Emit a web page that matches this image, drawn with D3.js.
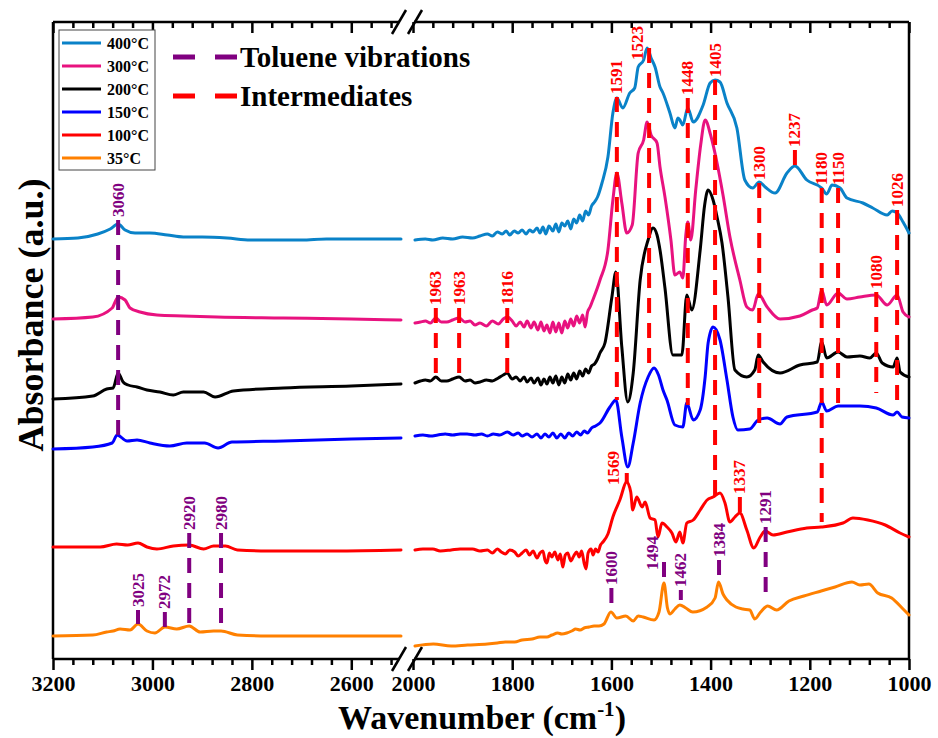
<!DOCTYPE html>
<html>
<head>
<meta charset="utf-8">
<script src="https://cdn.jsdelivr.net/npm/d3@7"></script>
<style>
  body { margin: 0; background: #fff; }
  svg text { font-family: "Liberation Serif", "Times New Roman", serif; font-weight: bold; }
</style>
</head>
<body>
<div id="chart"></div>
<script>
// spectra, [wavenumber, absorbance (a.u., offset)]
const s400 = [[3200,4.20],[3150,4.21],[3110,4.25],[3085,4.30],[3069,4.35],[3055,4.29],[3035,4.26],[3005,4.26],[2970,4.24],[2938,4.22],[2900,4.22],[2850,4.21],[2803,4.19],[2750,4.19],[2700,4.19],[2650,4.20],[2600,4.20],[2535,4.20],[2500,4.20],
  [1996,4.19],[1975,4.20],[1960,4.19],[1940,4.21],[1920,4.20],[1900,4.22],[1880,4.21],[1865,4.23],[1850,4.25],[1840,4.23],[1830,4.27],[1820,4.25],[1812,4.28],[1805,4.24],[1796,4.28],[1788,4.26],[1780,4.29],[1772,4.25],[1765,4.29],[1758,4.27],[1750,4.31],[1744,4.26],[1738,4.32],[1732,4.25],[1726,4.33],[1718,4.28],[1712,4.35],[1706,4.27],[1700,4.36],[1694,4.33],[1688,4.38],[1682,4.30],[1676,4.40],[1670,4.36],[1664,4.44],[1658,4.38],[1652,4.48],[1646,4.44],[1640,4.53],[1634,4.57],[1628,4.62],[1619,4.76],[1607,5.02],[1597,5.46],[1589,5.61],[1577,5.51],[1563,5.66],[1553,5.71],[1546,5.92],[1535,5.99],[1528,6.11],[1520,6.01],[1512,5.92],[1502,5.72],[1496,5.66],[1482,5.46],[1472,5.31],[1466,5.41],[1462,5.39],[1456,5.34],[1446,5.51],[1435,5.37],[1415,5.54],[1401,5.76],[1391,5.79],[1381,5.77],[1367,5.56],[1347,5.31],[1331,4.79],[1315,4.71],[1302,4.77],[1290,4.72],[1270,4.66],[1246,4.86],[1230,4.93],[1206,4.79],[1176,4.71],[1166,4.65],[1155,4.74],[1139,4.71],[1125,4.61],[1093,4.56],[1073,4.51],[1044,4.44],[1034,4.48],[1024,4.46],[1012,4.37],[1000,4.26]];

const s300 = [[3200,3.40],[3120,3.42],[3081,3.51],[3069,3.62],[3055,3.59],[3045,3.51],[3025,3.47],[2991,3.44],[2938,3.43],[2870,3.42],[2737,3.41],[2600,3.40],[2500,3.39],
  [1996,3.36],[1985,3.37],[1975,3.38],[1965,3.36],[1954,3.41],[1943,3.37],[1932,3.37],[1920,3.39],[1907,3.41],[1895,3.37],[1885,3.38],[1875,3.34],[1865,3.36],[1852,3.33],[1840,3.38],[1828,3.35],[1818,3.40],[1810,3.42],[1800,3.38],[1792,3.33],[1784,3.37],[1776,3.32],[1770,3.38],[1762,3.31],[1756,3.37],[1748,3.29],[1742,3.37],[1736,3.28],[1730,3.34],[1724,3.26],[1718,3.37],[1712,3.27],[1706,3.36],[1700,3.26],[1694,3.38],[1688,3.31],[1682,3.40],[1676,3.33],[1670,3.43],[1664,3.36],[1658,3.44],[1653,3.32],[1648,3.47],[1643,3.52],[1639,3.57],[1623,3.79],[1607,4.09],[1597,4.59],[1589,4.86],[1579,4.56],[1569,4.26],[1558,4.34],[1546,5.06],[1535,5.19],[1528,5.37],[1520,5.24],[1508,5.16],[1502,4.92],[1492,4.62],[1480,4.19],[1472,3.84],[1462,3.87],[1456,3.81],[1450,4.24],[1446,4.37],[1440,4.19],[1430,4.69],[1420,5.14],[1411,5.39],[1400,5.24],[1387,4.96],[1375,4.64],[1361,4.22],[1341,3.79],[1327,3.52],[1315,3.49],[1304,3.65],[1286,3.52],[1260,3.40],[1220,3.43],[1195,3.49],[1185,3.51],[1176,3.69],[1166,3.54],[1143,3.66],[1125,3.60],[1099,3.62],[1066,3.64],[1044,3.54],[1024,3.64],[1012,3.47],[1000,3.42]];

const s200 = [[3200,2.60],[3120,2.63],[3092,2.70],[3079,2.71],[3069,2.86],[3059,2.77],[3049,2.74],[3031,2.72],[3011,2.69],[2985,2.67],[2958,2.64],[2938,2.67],[2897,2.67],[2874,2.62],[2837,2.68],[2737,2.71],[2600,2.73],[2500,2.75],
  [1996,2.76],[1985,2.78],[1975,2.79],[1965,2.78],[1954,2.82],[1943,2.78],[1932,2.78],[1920,2.80],[1907,2.82],[1895,2.78],[1885,2.79],[1875,2.76],[1865,2.77],[1852,2.79],[1840,2.78],[1828,2.81],[1818,2.84],[1810,2.86],[1800,2.80],[1792,2.82],[1784,2.78],[1776,2.82],[1770,2.77],[1762,2.81],[1756,2.76],[1748,2.81],[1742,2.74],[1736,2.80],[1730,2.75],[1724,2.82],[1718,2.76],[1712,2.83],[1706,2.74],[1700,2.82],[1694,2.76],[1688,2.85],[1682,2.79],[1676,2.86],[1670,2.80],[1664,2.88],[1658,2.83],[1652,2.90],[1646,2.86],[1640,2.93],[1634,2.95],[1628,3.00],[1623,3.06],[1613,3.16],[1599,3.62],[1591,3.87],[1579,3.12],[1567,2.57],[1556,2.86],[1542,3.79],[1526,4.19],[1516,4.31],[1508,4.24],[1502,4.09],[1492,3.71],[1476,3.04],[1458,3.04],[1448,3.64],[1438,3.49],[1421,4.09],[1412,4.54],[1405,4.69],[1395,4.59],[1387,4.42],[1377,4.16],[1365,3.62],[1351,2.89],[1327,2.82],[1311,2.89],[1304,3.04],[1294,2.97],[1260,2.86],[1220,2.94],[1185,2.97],[1176,3.17],[1166,3.01],[1143,3.07],[1125,3.02],[1099,3.03],[1079,3.01],[1066,3.06],[1054,2.96],[1032,2.92],[1024,3.01],[1018,2.87],[1000,2.82]];

const s150 = [[3200,2.10],[3120,2.12],[3081,2.16],[3071,2.24],[3051,2.18],[3031,2.19],[3005,2.16],[2965,2.13],[2931,2.16],[2895,2.16],[2868,2.11],[2840,2.17],[2737,2.18],[2600,2.20],[2500,2.21],
  [1996,2.23],[1980,2.24],[1965,2.23],[1950,2.24],[1935,2.25],[1920,2.24],[1905,2.25],[1891,2.25],[1875,2.24],[1862,2.25],[1850,2.23],[1838,2.25],[1825,2.24],[1810,2.27],[1798,2.24],[1788,2.26],[1780,2.23],[1770,2.25],[1760,2.22],[1750,2.25],[1742,2.21],[1734,2.25],[1726,2.22],[1718,2.26],[1710,2.21],[1702,2.25],[1694,2.21],[1686,2.26],[1678,2.23],[1670,2.27],[1662,2.24],[1655,2.28],[1648,2.26],[1640,2.31],[1632,2.33],[1623,2.36],[1603,2.52],[1591,2.59],[1579,2.22],[1567,1.92],[1556,2.16],[1542,2.56],[1526,2.82],[1514,2.91],[1505,2.84],[1496,2.69],[1488,2.59],[1472,2.34],[1456,2.32],[1448,2.56],[1435,2.39],[1421,2.49],[1411,2.82],[1405,3.16],[1395,3.32],[1381,3.19],[1367,2.79],[1355,2.42],[1345,2.29],[1321,2.30],[1304,2.39],[1286,2.41],[1260,2.35],[1246,2.42],[1185,2.47],[1176,2.57],[1166,2.48],[1143,2.53],[1099,2.53],[1066,2.51],[1032,2.44],[1024,2.47],[1014,2.42],[1000,2.41]];

const s100 = [[3200,1.12],[3105,1.12],[3072,1.15],[3050,1.14],[3029,1.16],[3011,1.12],[2991,1.10],[2958,1.13],[2926,1.14],[2897,1.10],[2877,1.13],[2853,1.13],[2829,1.09],[2768,1.08],[2634,1.08],[2500,1.09],
  [1996,1.09],[1980,1.10],[1960,1.10],[1945,1.08],[1923,1.09],[1905,1.10],[1880,1.10],[1865,1.08],[1850,1.09],[1840,1.06],[1830,1.10],[1822,1.07],[1814,1.05],[1805,1.09],[1795,1.07],[1788,1.03],[1780,1.06],[1772,1.09],[1765,1.04],[1758,1.08],[1750,1.01],[1744,1.06],[1738,1.08],[1734,0.99],[1730,0.96],[1725,1.06],[1720,1.02],[1714,1.07],[1708,0.99],[1703,1.05],[1698,0.92],[1693,1.04],[1688,1.06],[1682,0.98],[1676,1.03],[1670,1.07],[1665,1.02],[1660,1.08],[1655,0.96],[1651,0.90],[1647,1.06],[1641,1.10],[1637,1.04],[1632,1.10],[1627,1.07],[1622,1.14],[1617,1.17],[1607,1.25],[1597,1.42],[1583,1.59],[1569,1.77],[1561,1.67],[1557,1.49],[1549,1.62],[1538,1.52],[1532,1.57],[1522,1.41],[1512,1.39],[1506,1.22],[1498,1.36],[1488,1.32],[1478,1.26],[1470,1.17],[1462,1.27],[1456,1.16],[1448,1.36],[1435,1.39],[1421,1.49],[1407,1.59],[1395,1.62],[1381,1.66],[1371,1.56],[1361,1.37],[1351,1.42],[1341,1.46],[1327,1.29],[1313,1.11],[1300,1.22],[1290,1.28],[1274,1.24],[1246,1.27],[1206,1.31],[1177,1.32],[1133,1.36],[1113,1.41],[1083,1.39],[1048,1.34],[1018,1.26],[1000,1.22]];

const s35 = [[3200,0.23],[3120,0.24],[3092,0.27],[3079,0.28],[3065,0.30],[3045,0.29],[3029,0.35],[3011,0.28],[2995,0.26],[2975,0.32],[2951,0.30],[2926,0.33],[2904,0.27],[2877,0.28],[2862,0.28],[2829,0.24],[2768,0.23],[2600,0.23],[2500,0.23],
  [1996,0.13],[1959,0.15],[1923,0.13],[1890,0.14],[1850,0.15],[1830,0.16],[1814,0.17],[1795,0.17],[1780,0.19],[1760,0.20],[1744,0.22],[1730,0.22],[1720,0.24],[1708,0.26],[1700,0.25],[1690,0.26],[1680,0.28],[1672,0.30],[1663,0.29],[1655,0.31],[1645,0.32],[1635,0.33],[1625,0.33],[1615,0.35],[1601,0.47],[1589,0.41],[1571,0.43],[1556,0.38],[1546,0.43],[1536,0.42],[1514,0.39],[1504,0.47],[1494,0.76],[1487,0.51],[1482,0.45],[1472,0.50],[1462,0.54],[1450,0.51],[1436,0.47],[1407,0.52],[1391,0.61],[1384,0.77],[1375,0.65],[1367,0.59],[1349,0.52],[1335,0.50],[1321,0.49],[1311,0.40],[1299,0.47],[1285,0.53],[1267,0.49],[1242,0.58],[1212,0.63],[1177,0.68],[1149,0.72],[1115,0.77],[1099,0.74],[1081,0.75],[1063,0.66],[1035,0.61],[1012,0.50],[1000,0.44]];

const seriesNames = ["400°C", "300°C", "200°C", "150°C", "100°C", "35°C"];
const seriesData = [s400, s300, s200, s150, s100, s35];
const seriesColors = ["#0a82c8", "#e8127f", "#000000", "#0000ff", "#ff0000", "#ff8000"];

// peak markers: [wavenumber, label, top a.u., bottom a.u.]
const toluenePeaks = [[3069,"3060",4.39,2.24],[3029,"3025",0.49,0.35],[2975,"2972",0.47,0.32],[2926,"2920",1.26,0.27],[2862,"2980",1.26,0.27],
  [1600,"1600",0.71,0.54],[1494,"1494",0.97,0.81],[1460,"1462",0.69,0.59],[1383,"1384",0.99,0.81],[1289,"1291",1.32,0.59]];
const intermediatePeaks = [[1954,"1963",3.51,2.81],[1907,"1963",3.51,2.81],[1810,"1816",3.51,2.81],[1589,"1591",5.62,2.59],[1524,"1523",6.11,2.89],
  [1446,"1448",5.61,2.54],[1391,"1405",5.79,1.62],[1302,"1300",4.76,2.32],[1230,"1237",5.09,4.93],[1176,"1180",4.71,1.37],[1143,"1150",4.71,2.52],
  [1024,"1026",4.49,2.56],[1066,"1080",3.67,2.66],[1569,"1569",1.86,1.77],[1341,"1337",1.62,1.46]];
// label nudges for crowded peaks (px)
const labelShift = {"1523": [-12, 15], "1569": [-13, 15], "1494": [-11, 11]};

const leftMajor = [3200, 3000, 2800, 2600];
const rightMajor = [2000, 1800, 1600, 1400, 1200, 1000];

const W = 938, H = 738;
const svg = d3.select("#chart").append("svg").attr("width", W).attr("height", H);

const plotTop = 22, plotBottom = 659;
const xL = d3.scaleLinear().domain([3200, 2500]).range([53, 401]);
const xR = d3.scaleLinear().domain([2000, 1000]).range([413, 909]);
const y = d3.scaleLinear().domain([0, 6.37]).range([plotBottom, plotTop]);
const x = wn => wn > 2250 ? xL(wn) : xR(wn);

// frame
const frame = svg.append("g").attr("stroke", "#000").attr("stroke-width", 2.5).attr("fill", "none");
[[53, 53, plotTop, plotBottom], [909, 909, plotTop, plotBottom]].forEach(d =>
  frame.append("line").attr("x1", d[0]).attr("x2", d[1]).attr("y1", d[2]).attr("y2", d[3]));
[plotTop, plotBottom].forEach(yy => {
  frame.append("line").attr("x1", 53).attr("x2", 399).attr("y1", yy).attr("y2", yy);
  frame.append("line").attr("x1", 414).attr("x2", 909).attr("y1", yy).attr("y2", yy);
  [399, 415].forEach(cx => frame.append("line")
    .attr("x1", cx - 7).attr("y1", yy + 12).attr("x2", cx + 7).attr("y2", yy - 12)
    .attr("stroke-width", 2.5));
});

function range(a, b, step) { const r = []; for (let v = a; step < 0 ? v >= b : v <= b; v += step) r.push(v); return r; }
const leftMinor = range(3200, 2520, -40).filter(v => v % 200 !== 0);
const rightMinor = range(2000, 1000, -40).filter(v => v % 200 !== 0);

function axisGroup(scale, majors, minors, yy, labels) {
  const major = d3.axisBottom(scale).tickValues(majors).tickSize(11).tickPadding(5)
    .tickFormat(labels ? d3.format("d") : "");
  const minor = d3.axisBottom(scale).tickValues(minors).tickSize(6).tickFormat("");
  const g1 = svg.append("g").attr("transform", `translate(0,${yy})`).call(major);
  const g2 = svg.append("g").attr("transform", `translate(0,${yy})`).call(minor);
  [g1, g2].forEach(g => {
    g.select(".domain").remove();
    g.selectAll(".tick line").attr("stroke", "#000").attr("stroke-width", 2.5);
  });
  g1.selectAll(".tick text").attr("font-size", 22).attr("fill", "#000")
    .attr("font-family", "'Liberation Serif', serif").attr("font-weight", "bold");
}
axisGroup(xL, leftMajor, leftMinor, plotBottom, true);
axisGroup(xR, rightMajor, rightMinor, plotBottom, true);
axisGroup(xL, leftMajor, leftMinor, plotTop, false);
axisGroup(xR, rightMajor, rightMinor, plotTop, false);

// spectra
const line = d3.line().x(d => x(d[0])).y(d => y(d[1])).curve(d3.curveMonotoneX);
seriesData.forEach((data, i) => {
  const parts = [data.filter(d => d[0] > 2250), data.filter(d => d[0] <= 2250)];
  parts.forEach(p => svg.append("path").datum(p).attr("d", line)
    .attr("fill", "none").attr("stroke", seriesColors[i]).attr("stroke-width", 3)
    .attr("stroke-linejoin", "round").attr("stroke-linecap", "round"));
});

// peak markers
function drawPeaks(peaks, color) {
  const g = svg.append("g");
  peaks.forEach(p => {
    const px = x(p[0]);
    g.append("line").attr("x1", px).attr("x2", px).attr("y1", y(p[2])).attr("y2", y(p[3]))
      .attr("stroke", color).attr("stroke-width", 4).attr("stroke-dasharray", "15,10");
    const sh = labelShift[p[1]] || [0, 0];
    const tx = px + sh[0], ty = y(p[2]) - 3 + sh[1];
    g.append("text").attr("transform", `translate(${tx},${ty}) rotate(-90)`)
      .attr("dominant-baseline", "central").attr("font-size", 17).attr("fill", color)
      .text(p[1]);
  });
}
drawPeaks(toluenePeaks, "#800080");
drawPeaks(intermediatePeaks, "#ff0000");

// legend (series)
const lg = svg.append("g");
lg.append("rect").attr("x", 59).attr("y", 30).attr("width", 96).attr("height", 140)
  .attr("fill", "#fff").attr("stroke", "#444").attr("stroke-width", 1);
seriesNames.forEach((n, i) => {
  const ly = 43 + i * 23;
  lg.append("line").attr("x1", 62).attr("x2", 101).attr("y1", ly).attr("y2", ly)
    .attr("stroke", seriesColors[i]).attr("stroke-width", 3);
  lg.append("text").attr("x", 107).attr("y", ly).attr("dominant-baseline", "central")
    .attr("font-size", 16).attr("fill", "#000").text(n);
});

// legend (markers)
[["Toluene vibrations", "#800080", 57], ["Intermediates", "#ff0000", 96]].forEach(d => {
  svg.append("line").attr("x1", 173).attr("x2", 237).attr("y1", d[2]).attr("y2", d[2])
    .attr("stroke", d[1]).attr("stroke-width", 5).attr("stroke-dasharray", "22,20");
  svg.append("text").attr("x", 240).attr("y", d[2]).attr("dominant-baseline", "central")
    .attr("font-size", 29).attr("fill", "#000").text(d[0]);
});

// axis titles
const xt = svg.append("text").attr("x", 482).attr("y", 729).attr("text-anchor", "middle")
  .attr("font-size", 34).attr("fill", "#000");
xt.append("tspan").text("Wavenumber (cm");
xt.append("tspan").attr("dy", -13).attr("font-size", 21).text("-1");
xt.append("tspan").attr("dy", 13).text(")");

svg.append("text").attr("transform", "translate(43,315) rotate(-90)").attr("text-anchor", "middle")
  .attr("font-size", 36).attr("fill", "#000").text("Absorbance (a.u.)");
</script>
</body>
</html>
